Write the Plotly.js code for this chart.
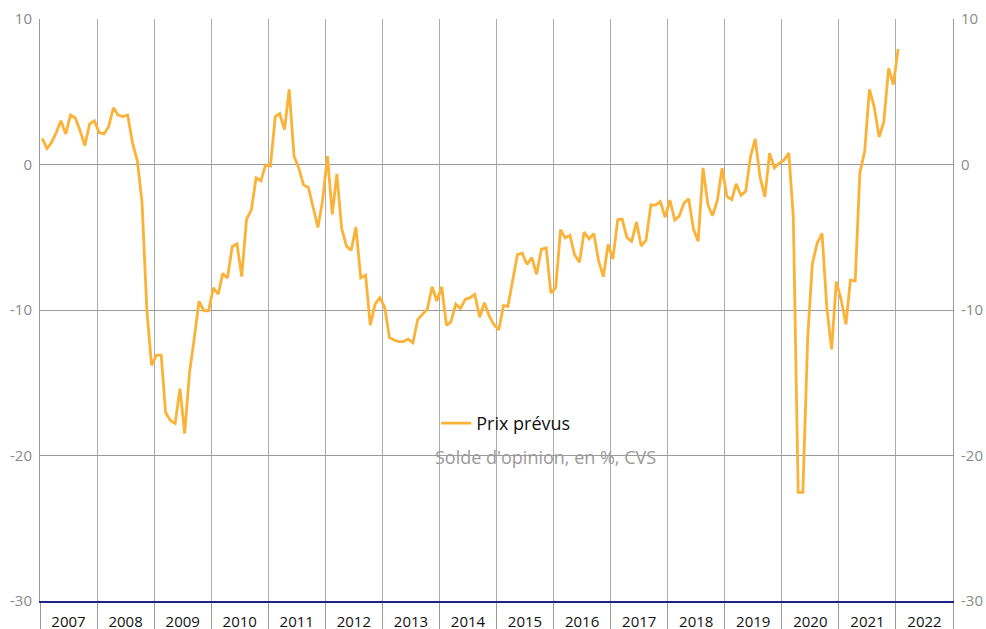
<!DOCTYPE html>
<html>
<head>
<meta charset="utf-8">
<script src="https://cdn.plot.ly/plotly-3.0.1.min.js"></script>
<style>
  html, body { margin: 0; padding: 0; background: #ffffff; }
  #chart { width: 986px; height: 629px; }
</style>
</head>
<body>
<div id="chart"></div>
<script>
// ---- Data (monthly, Jan 2007 – Jan 2022) ----
const seriesName = "Prix prévus";
const subtitle = "Solde d'opinion, en %, CVS";
const startYear = 2007;
const yTicks = [10, 0, -10, -20, -30];
const prixPrevus = [
  // 2007
  1.8, 1.1, 1.5, 2.2, 3.0, 2.1, 3.4, 3.2, 2.3, 1.3, 2.8, 3.0,
  // 2008
  2.2, 2.1, 2.6, 3.9, 3.4, 3.3, 3.4, 1.5, 0.25, -2.6, -10.0, -13.8,
  // 2009
  -13.1, -13.1, -17.05, -17.6, -17.8, -15.4, -18.5, -14.3, -11.9, -9.4, -10.05, -10.05,
  // 2010
  -8.47, -8.92, -7.5, -7.8, -5.65, -5.45, -7.7, -3.78, -3.12, -0.92, -1.12, -0.03,
  // 2011
  -0.1, 3.3, 3.5, 2.4, 5.17, 0.57, -0.23, -1.4, -1.58, -2.9, -4.33, -2.45,
  // 2012
  0.57, -3.43, -0.64, -4.4, -5.6, -5.9, -4.3, -7.8, -7.6, -11.05, -9.6, -9.15,
  // 2013
  -9.8, -11.9, -12.06, -12.17, -12.17, -12.0, -12.25, -10.64, -10.3, -9.95, -8.4, -9.38,
  // 2014
  -8.4, -11.05, -10.82, -9.6, -9.9, -9.27, -9.15, -8.92, -10.5, -9.5, -10.4, -11.0,
  // 2015
  -11.37, -9.7, -9.75, -7.9, -6.2, -6.1, -6.86, -6.4, -7.55, -5.83, -5.73, -8.83,
  // 2016
  -8.48, -4.48, -5.05, -4.87, -6.2, -6.72, -4.65, -5.12, -4.75, -6.6, -7.71, -5.5,
  // 2017
  -6.5, -3.8, -3.75, -5.03, -5.28, -3.96, -5.6, -5.22, -2.78, -2.79, -2.55, -3.63,
  // 2018
  -2.45, -3.82, -3.55, -2.66, -2.35, -4.46, -5.27, -0.23, -2.75, -3.52, -2.45, -0.25,
  // 2019
  -2.2, -2.42, -1.33, -2.11, -1.85, 0.55, 1.76, -0.88, -2.22, 0.78, -0.23, 0.08,
  // 2020
  0.3, 0.78, -3.66, -22.54, -22.54, -11.9, -6.8, -5.4, -4.74, -9.8, -12.7, -8.05,
  // 2021
  -9.3, -10.98, -7.94, -8.0, -0.57, 0.92, 5.17, 3.95, 1.89, 2.93, 6.6, 5.49,
  // 2022
  7.94
];

// monthly date categories (mid-month)
const dates = prixPrevus.map((_, i) => {
  const y = startYear + Math.floor(i / 12);
  const m = (i % 12) + 1;
  return y + "-" + String(m).padStart(2, "0") + "-15";
});

const FONT = "Open Sans, Noto Sans, sans-serif";
const lineColor = "#FBB236";

const traces = [
  {
    x: dates, y: prixPrevus, name: seriesName, type: "scatter", mode: "lines",
    line: { color: lineColor, width: 2.8 }, hoverinfo: "x+y"
  },
  {
    x: dates, y: prixPrevus, yaxis: "y2", type: "scatter", mode: "lines",
    line: { color: "rgba(0,0,0,0)", width: 0 }, showlegend: false, hoverinfo: "skip"
  }
];

const layout = {
  width: 986, height: 629,
  margin: { l: 40, r: 33, t: 19, b: 28, pad: 0 },
  paper_bgcolor: "#ffffff", plot_bgcolor: "#ffffff",
  font: { family: FONT, size: 15, color: "#222" },
  showlegend: true,
  legend: {
    x: 0.434, y: 0.337, xanchor: "left", yanchor: "top",
    bgcolor: "rgba(0,0,0,0)", borderwidth: 0,
    font: { family: FONT, size: 18, color: "#111" }
  },
  xaxis: {
    type: "date",
    range: ["2007-01-01", "2023-01-01"],
    tick0: "2007-01-01", dtick: "M12", tickformat: "%Y",
    ticklabelmode: "period",
    ticks: "outside", ticklen: 30, tickcolor: "#9a9a9a", tickwidth: 1,
    ticklabelstandoff: -24,
    showgrid: true, gridcolor: "#ababab", gridwidth: 1,
    showline: true, linecolor: "#1c2583", linewidth: 2,
    zeroline: false,
    tickfont: { family: FONT, size: 15, color: "#111" },
    fixedrange: true
  },
  yaxis: {
    range: [-30, 10], tickvals: yTicks, ticktext: yTicks.map(String),
    showgrid: true, gridcolor: "#9a9a9a", gridwidth: 1,
    zeroline: false, showline: true, linecolor: "#9a9a9a", linewidth: 1,
    ticks: "", ticklabelstandoff: 4,
    tickfont: { family: FONT, size: 15, color: "#8a8a8a" },
    fixedrange: true
  },
  yaxis2: {
    overlaying: "y", side: "right", anchor: "x",
    range: [-30, 10], tickvals: yTicks, ticktext: yTicks.map(String),
    showgrid: false, zeroline: false,
    showline: true, linecolor: "#9a9a9a", linewidth: 1,
    ticks: "", ticklabelstandoff: 4,
    tickfont: { family: FONT, size: 15, color: "#8a8a8a" },
    fixedrange: true
  },
  annotations: [
    {
      text: subtitle, xref: "paper", yref: "paper",
      x: 0.4305, y: 0.2476, xanchor: "left", yanchor: "middle",
      showarrow: false,
      font: { family: FONT, size: 18, color: "#9a9a9a" }
    }
  ]
};

Plotly.newPlot("chart", traces, layout, { displayModeBar: false, staticPlot: true });
</script>
</body>
</html>
